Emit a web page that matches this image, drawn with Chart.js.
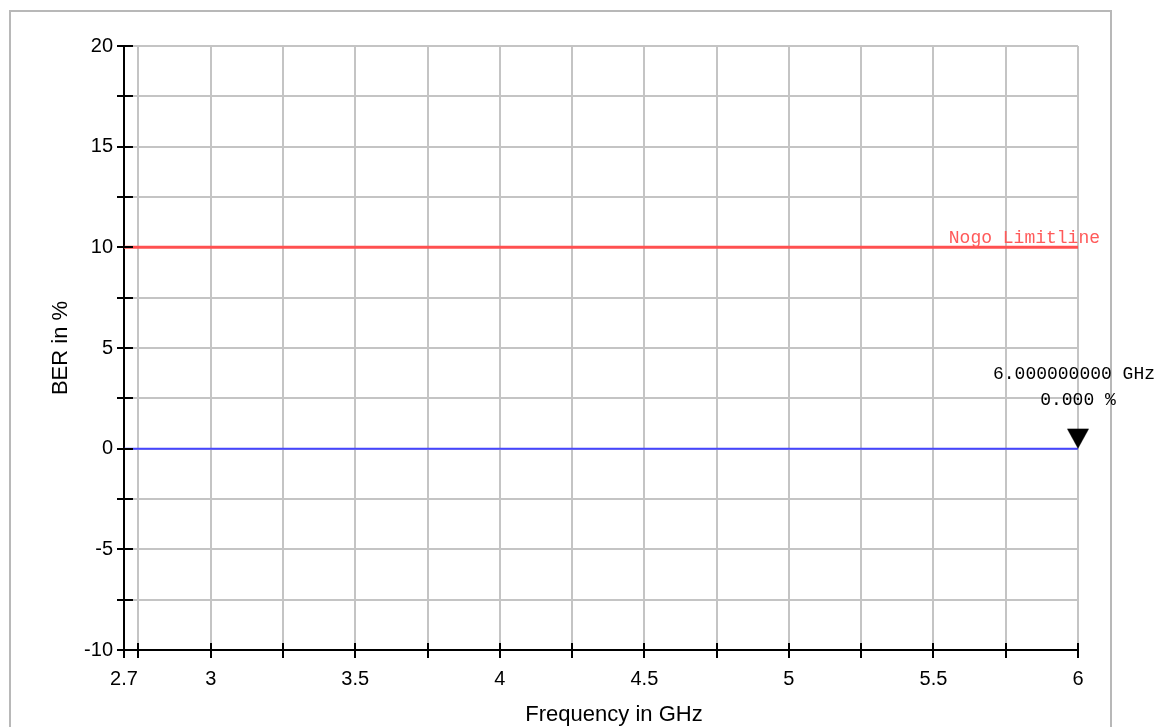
<!DOCTYPE html>
<html>
<head>
<meta charset="utf-8">
<script src="https://cdn.jsdelivr.net/npm/chart.js@4.4.0/dist/chart.umd.min.js"></script>
<style>
  body { margin: 0; background: #fff; }
  #frame { position: absolute; left: 9px; top: 10px; width: 1099px; height: 760px; border: 2px solid #b8b8b8; border-bottom: none; }
  #myChart { position: absolute; left: 0; top: 0; }
</style>
</head>
<body>
<div id="frame"></div>
<canvas id="myChart" width="1165" height="727"></canvas>
<script>
  // Measured trace (BER vs frequency)
  const freqGHz = [2.7, 6];
  const berPct = [0, 0];

  // Nogo limit line
  const limitFreq = [2.7, 6];
  const limitBer = [10, 10];
  const limitName = 'Nogo Limitline';

  // Marker
  const markerFreq = [6];
  const markerBer = [0];

  // Ticks and labels
  const xTicks = [2.7, 2.75, 3, 3.25, 3.5, 3.75, 4, 4.25, 4.5, 4.75, 5, 5.25, 5.5, 5.75, 6];
  const xTickLabels = ['2.7', '3', '3.5', '4', '4.5', '5', '5.5', '6'];
  const yTicks = [-10, -7.5, -5, -2.5, 0, 2.5, 5, 7.5, 10, 12.5, 15, 17.5, 20];
  const yTickLabels = ['-10', '-5', '0', '5', '10', '15', '20'];
  const xTitle = 'Frequency in GHz';

  // Marker symbol: down triangle with its tip at the canvas centre
  const tri = document.createElement('canvas');
  tri.width = 24;
  tri.height = 42;
  const tctx = tri.getContext('2d');
  tctx.fillStyle = '#000';
  tctx.beginPath();
  tctx.moveTo(1, 1);
  tctx.lineTo(23, 1);
  tctx.lineTo(12, 21);
  tctx.closePath();
  tctx.fill();

  const tickFont = { family: 'Liberation Sans, Arial', size: 20 };
  const titleFont = { family: 'Liberation Sans, Arial', size: 22 };
  const readFont = '18px "Liberation Mono", monospace';

  // Inner halves of the tick marks, x title, limit name and marker readout
  const extras = {
    id: 'extras',
    afterDraw: function (chart) {
      const ctx = chart.ctx, xs = chart.scales.x, ys = chart.scales.y, a = chart.chartArea;
      ctx.save();
      ctx.strokeStyle = '#000';
      ctx.lineWidth = 2;
      ctx.beginPath();
      xs.ticks.forEach(function (t) {
        const px = Math.round(xs.getPixelForValue(t.value));
        ctx.moveTo(px, a.bottom);
        ctx.lineTo(px, a.bottom - 7);
      });
      ys.ticks.forEach(function (t) {
        const py = Math.round(ys.getPixelForValue(t.value));
        ctx.moveTo(a.left, py);
        ctx.lineTo(a.left + 9, py);
      });
      ctx.stroke();

      // x axis title (sits a little right of the plot centre)
      ctx.fillStyle = '#000';
      ctx.font = titleFont.size + 'px ' + titleFont.family;
      ctx.textAlign = 'center';
      ctx.textBaseline = 'middle';
      ctx.fillText(xTitle, (a.left + a.right) / 2 + 13, xs.bottom - 12);

      ctx.font = readFont;
      ctx.textBaseline = 'alphabetic';
      ctx.fillStyle = '#ff5a5a';
      ctx.textAlign = 'right';
      ctx.fillText(limitName, xs.getPixelForValue(limitFreq[1]) + 22, ys.getPixelForValue(limitBer[1]) - 4);

      ctx.fillStyle = '#000';
      ctx.textAlign = 'center';
      const mx = xs.getPixelForValue(markerFreq[0]);
      const my = ys.getPixelForValue(markerBer[0]);
      ctx.fillText(markerFreq[0].toFixed(9) + ' GHz', mx - 4, my - 70);
      ctx.fillText(markerBer[0].toFixed(3) + ' %', mx, my - 44);
      ctx.restore();
    }
  };

  const data = {
    datasets: [{
      label: 'Trace',
      data: freqGHz.map(function (f, i) { return { x: f, y: berPct[i] }; }),
      borderColor: '#4646ff',
      borderWidth: 2,
      pointRadius: 0,
      order: 2
    }, {
      label: limitName,
      data: limitFreq.map(function (f, i) { return { x: f, y: limitBer[i] }; }),
      borderColor: '#ff5050',
      borderWidth: 3,
      pointRadius: 0,
      order: 3
    }, {
      label: 'Marker',
      data: markerFreq.map(function (f, i) { return { x: f, y: markerBer[i] }; }),
      showLine: false,
      pointStyle: tri,
      pointRadius: 11,
      clip: false,
      order: 1
    }]
  };

  const config = {
    type: 'line',
    data: data,
    plugins: [extras],
    options: {
      responsive: false,
      animation: false,
      events: [],
      layout: { padding: { left: 0, top: 46, right: 87, bottom: 0 } },
      plugins: { legend: { display: false }, tooltip: { enabled: false } },
      scales: {
        x: {
          type: 'linear',
          min: 2.7,
          max: 6,
          afterBuildTicks: function (s) { s.ticks = xTicks.map(function (v) { return { value: v }; }); },
          afterFit: function (s) { s.height = 77; },
          ticks: {
            autoSkip: false,
            maxRotation: 0,
            padding: 9,
            color: '#000',
            font: tickFont,
            callback: function (v) { return xTickLabels.includes(String(v)) ? String(v) : ''; }
          },
          grid: { color: '#c4c4c4', lineWidth: 2, tickColor: '#000', tickLength: 8, tickWidth: 2 },
          border: { color: '#000', width: 2 },
          title: { display: false }
        },
        y: {
          type: 'linear',
          min: -10,
          max: 20,
          afterBuildTicks: function (s) { s.ticks = yTicks.map(function (v) { return { value: v }; }); },
          afterFit: function (s) { s.width = 124; },
          ticks: {
            autoSkip: false,
            padding: 4,
            color: '#000',
            font: tickFont,
            callback: function (v) { return yTickLabels.includes(String(v)) ? String(v) : ''; }
          },
          grid: { color: '#c4c4c4', lineWidth: 2, tickColor: '#000', tickLength: 7, tickWidth: 2 },
          border: { color: '#000', width: 2 },
          title: { display: true, text: 'BER in %', color: '#000', font: titleFont, padding: { top: 48, bottom: 0 } }
        }
      }
    }
  };

  const myChart = new Chart(document.getElementById('myChart'), config);
</script>
</body>
</html>
